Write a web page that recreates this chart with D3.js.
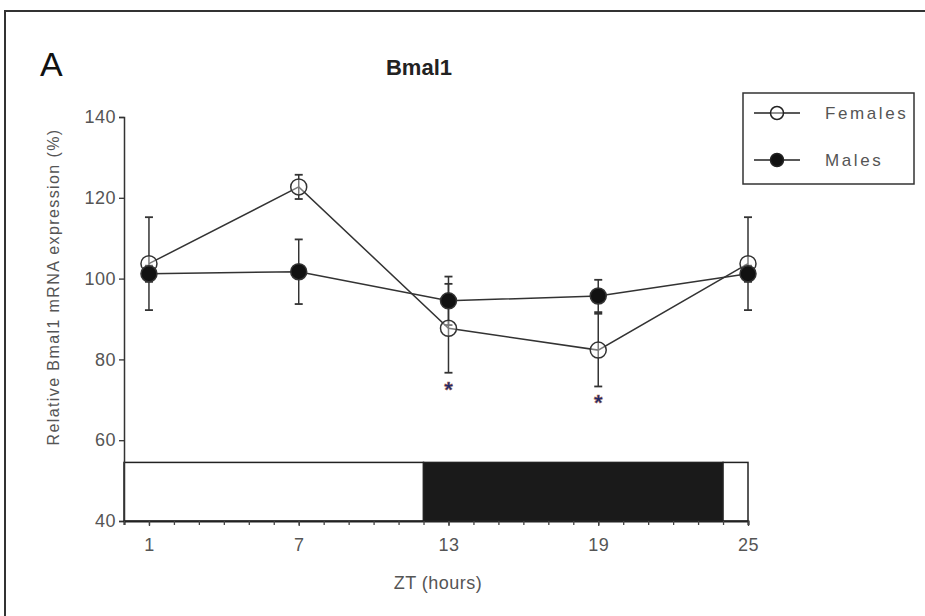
<!DOCTYPE html>
<html>
<head>
<meta charset="utf-8">
<script src="https://cdn.jsdelivr.net/npm/d3@7"></script>
<style>
  body { margin: 0; background: #fff; }
  text { font-family: "Liberation Sans", Arial, sans-serif; }
</style>
</head>
<body>
<div id="chart"></div>
<script>
// Data
const zt = [1, 7, 13, 19, 25];
const femalesMean = [103.7, 122.7, 87.7, 82.3, 103.7];
const femalesSem = [11.5, 3, 11, 9, 11.5];
const malesMean = [101.2, 101.7, 94.5, 95.7, 101.2];
const malesSem = [2, 8, 6, 4, 2];
const yTicks = [40, 60, 80, 100, 120, 140];
const xTicks = [1, 7, 13, 19, 25];
const minorTicks = d3.range(0, 26);
const phases = [
  {start: 0, end: 12, dark: false},
  {start: 12, end: 24, dark: true},
  {start: 24, end: 25, dark: false}
];
const phaseTop = 54.5;
const significant = [13, 19];

const W = 925, H = 616;
const svg = d3.select("#chart").append("svg")
  .attr("width", W).attr("height", H);

// outer frame of the panel
svg.append("rect")
  .attr("x", 5).attr("y", 11)
  .attr("width", W + 10).attr("height", H + 10)
  .attr("fill", "none").attr("stroke", "#333").attr("stroke-width", 2);

const x = d3.scaleLinear().domain([0, 25]).range([124, 748]);
const y = d3.scaleLinear().domain([40, 140]).range([521, 117]);

// light/dark bar
svg.selectAll(".phase")
  .data(phases)
  .enter().append("rect")
  .attr("class", "phase")
  .attr("x", d => x(d.start))
  .attr("y", y(phaseTop))
  .attr("width", d => x(d.end) - x(d.start))
  .attr("height", y(40) - y(phaseTop))
  .attr("fill", d => d.dark ? "#1a1a1a" : "#fff")
  .attr("stroke", "#222").attr("stroke-width", 1.5);

// y axis
const yAxis = svg.append("g")
  .attr("transform", `translate(${x(0)},0)`)
  .call(d3.axisLeft(y).tickValues(yTicks).tickSize(5).tickPadding(3));
yAxis.select(".domain").attr("stroke", "#333").attr("stroke-width", 1.5);
yAxis.selectAll(".tick line").attr("stroke", "#333").attr("stroke-width", 1.3);
yAxis.selectAll("text")
  .attr("font-size", 18).attr("letter-spacing", 0.5).attr("fill", "#555");

// x axis: minor ticks every hour, labels at major
const xMinor = svg.append("g")
  .attr("transform", `translate(0,${y(40)})`)
  .call(d3.axisBottom(x).tickValues(minorTicks).tickSize(4).tickFormat(""));
xMinor.select(".domain").attr("stroke", "#222").attr("stroke-width", 2);
xMinor.selectAll(".tick line").attr("stroke", "#444").attr("stroke-width", 1.3);

const xAxis = svg.append("g")
  .attr("transform", `translate(0,${y(40)})`)
  .call(d3.axisBottom(x).tickValues(xTicks).tickSize(5).tickPadding(12));
xAxis.select(".domain").remove();
xAxis.selectAll(".tick line").attr("stroke", "#444").attr("stroke-width", 1.3);
xAxis.selectAll("text")
  .attr("font-size", 18).attr("letter-spacing", 0.5).attr("fill", "#555");

// labels
svg.append("text")
  .attr("x", 438).attr("y", 589)
  .attr("text-anchor", "middle")
  .attr("font-size", 18).attr("letter-spacing", 0.5).attr("fill", "#555")
  .text("ZT (hours)");

svg.append("text")
  .attr("transform", "rotate(-90)")
  .attr("x", -287).attr("y", 59)
  .attr("text-anchor", "middle")
  .attr("font-size", 16).attr("letter-spacing", 1.4).attr("fill", "#555")
  .text("Relative Bmal1 mRNA expression (%)");

svg.append("text")
  .attr("x", 419).attr("y", 75)
  .attr("text-anchor", "middle")
  .attr("font-family", "'Liberation Sans Narrow', 'Liberation Sans', Arial, sans-serif")
  .attr("font-size", 22).attr("font-weight", "bold").attr("fill", "#222")
  .text("Bmal1");

svg.append("text")
  .attr("x", 40).attr("y", 76)
  .attr("font-size", 34).attr("fill", "#111")
  .text("A");

// series
const series = [
  {name: "Females", mean: femalesMean, sem: femalesSem, fill: "#fff", op: 0.35},
  {name: "Males", mean: malesMean, sem: malesSem, fill: "#111", op: 1}
];

const line = d3.line().x(d => x(d.t)).y(d => y(d.v));

series.forEach(s => {
  const pts = zt.map((t, i) => ({t: t, v: s.mean[i], e: s.sem[i]}));
  const g = svg.append("g");

  g.append("path")
    .datum(pts)
    .attr("d", line)
    .attr("fill", "none").attr("stroke", "#333").attr("stroke-width", 1.5);

  const eb = g.selectAll(".eb").data(pts).enter().append("g");
  eb.append("line")
    .attr("x1", d => x(d.t)).attr("x2", d => x(d.t))
    .attr("y1", d => y(d.v + d.e)).attr("y2", d => y(d.v - d.e))
    .attr("stroke", "#333").attr("stroke-width", 1.5);
  [1, -1].forEach(sign => {
    eb.append("line")
      .attr("x1", d => x(d.t) - 4).attr("x2", d => x(d.t) + 4)
      .attr("y1", d => y(d.v + sign * d.e)).attr("y2", d => y(d.v + sign * d.e))
      .attr("stroke", "#333").attr("stroke-width", 1.8);
  });
  s.pts = pts;
  s.g = g;
});

// markers over all lines
series.forEach(s => {
  svg.append("g").selectAll(".pt").data(s.pts).enter().append("circle")
    .attr("class", "pt")
    .attr("cx", d => x(d.t)).attr("cy", d => y(d.v))
    .attr("r", 8)
    .attr("fill", s.fill).attr("fill-opacity", s.op)
    .attr("stroke", "#333").attr("stroke-width", 1.5);
});

// significance stars under the female lower whisker
svg.selectAll(".star")
  .data(significant)
  .enter().append("text")
  .attr("class", "star")
  .attr("x", d => x(d))
  .attr("y", d => {
    const i = zt.indexOf(d);
    return y(femalesMean[i] - femalesSem[i]) + 24;
  })
  .attr("text-anchor", "middle")
  .attr("font-size", 22).attr("font-weight", "bold").attr("fill", "#1c2a6e")
  .attr("stroke", "#b0603a").attr("stroke-width", 0.4)
  .text("*");

// legend
const lg = svg.append("g");
lg.append("rect")
  .attr("x", 743).attr("y", 93).attr("width", 171).attr("height", 91)
  .attr("fill", "#fff").attr("stroke", "#333").attr("stroke-width", 1.5);
series.forEach((s, i) => {
  const ly = 113 + i * 47;
  lg.append("line")
    .attr("x1", 754).attr("x2", 800).attr("y1", ly).attr("y2", ly)
    .attr("stroke", "#222").attr("stroke-width", 1.5);
  lg.append("circle")
    .attr("cx", 777).attr("cy", ly).attr("r", 6.5)
    .attr("fill", s.fill).attr("fill-opacity", s.op)
    .attr("stroke", "#222").attr("stroke-width", 1.5);
  lg.append("text")
    .attr("x", 825).attr("y", ly + 6)
    .attr("font-size", 17).attr("letter-spacing", 2.6).attr("fill", "#555")
    .text(s.name);
});
</script>
</body>
</html>
